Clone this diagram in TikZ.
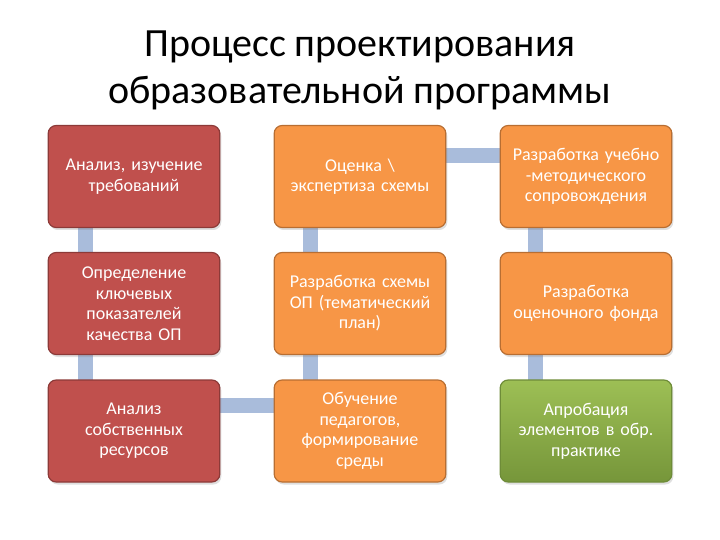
\documentclass[tikz,border=0pt]{standalone}
\usepackage{fontspec}
\setmainfont{Carlito}
\usetikzlibrary{shadows,backgrounds}
\definecolor{redfill}{HTML}{C0504D}
\definecolor{redline}{HTML}{8C3A38}
\definecolor{orfill}{HTML}{F79646}
\definecolor{orline}{HTML}{B86E32}
\definecolor{grtop}{HTML}{9DBF55}
\definecolor{grbot}{HTML}{76963A}
\definecolor{grline}{HTML}{6E8C38}
\definecolor{connc}{HTML}{A9BCDB}
\newcommand\myboxfont{\fontsize{18}{20.5}\selectfont\spaceskip=0.22em\relax}
\tikzset{
  box/.style={rounded corners=8pt, minimum width=171pt, minimum height=102pt,
    text width=165pt, align=center, text=white, line width=1.2pt,
    font=\myboxfont,
    drop shadow={opacity=0.25, shadow xshift=1.5pt, shadow yshift=-2.5pt}},
  redbox/.style={box, fill=redfill, draw=redline},
  orbox/.style={box, fill=orfill, draw=orline},
  grbox/.style={box, top color=grtop, bottom color=grbot, draw=grline},
  conn/.style={connc, line width=15pt},
}
\begin{document}
\begin{tikzpicture}[x=1pt,y=-1pt]
\useasboundingbox (0,0) rectangle (720,540);
\node[font=\fontsize{40}{47}\selectfont, align=center] (title) at (360,70)
  {Процесс проектирования\\образовательной программы};
\node[redbox] (a1) at (134,176.5) {Анализ, изучение\\требований};
\node[redbox] (a2) at (134,303.5) {Определение\\ключевых\\показателей\\качества ОП};
\node[redbox] (a3) at (134,431) {Анализ\\собственных\\ресурсов};
\node[orbox] (b1) at (360,176.5) {Оценка \textbackslash\\экспертиза схемы};
\node[orbox] (b2) at (360,303.5) {Разработка схемы\\ОП (тематический\\план)};
\node[orbox] (b3) at (360,431) {Обучение\\педагогов,\\формирование\\среды};
\node[orbox] (c1) at (586,176.5) {Разработка учебно\\-методического\\сопровождения};
\node[orbox] (c2) at (586,303.5) {Разработка\\оценочного фонда};
\node[grbox] (c3) at (586,431) {Апробация\\элементов в обр.\\практике};
\begin{scope}[on background layer]
\draw[conn] ([xshift=-49pt]a1.center) -- ([xshift=-49pt]a2.center);
\draw[conn] ([xshift=-49pt]a2.center) -- ([xshift=-49pt]a3.center);
\draw[conn] ([yshift=26pt]a3.center) -- ([yshift=26pt]b3.center);
\draw[conn] ([xshift=-50pt]b3.center) -- ([xshift=-50pt]b2.center);
\draw[conn] ([xshift=-50pt]b2.center) -- ([xshift=-50pt]b1.center);
\draw[conn] ([yshift=21pt]b1.center) -- ([yshift=21pt]c1.center);
\draw[conn] ([xshift=-51pt]c1.center) -- ([xshift=-51pt]c2.center);
\draw[conn] ([xshift=-51pt]c2.center) -- ([xshift=-51pt]c3.center);
\end{scope}
\end{tikzpicture}
\end{document}
